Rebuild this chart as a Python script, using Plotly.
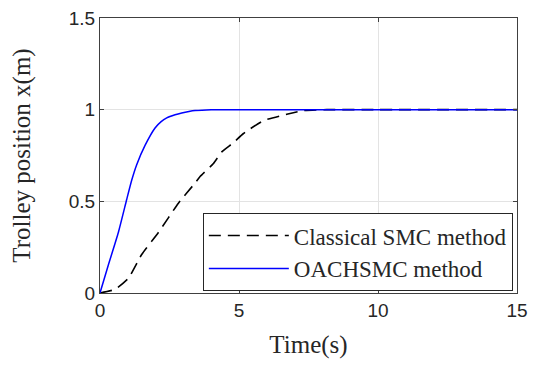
import plotly.graph_objects as go

# OACHSMC method (blue, solid)
t_oachsmc = [0, 0.3, 0.66, 0.96, 1.14, 1.32, 1.62, 1.98, 2.2, 2.4, 2.7, 2.94, 3.2, 3.42, 4.0, 5, 10, 15]
x_oachsmc = [0, 0.153, 0.33, 0.51, 0.615, 0.7, 0.805, 0.9, 0.935, 0.955, 0.972, 0.982, 0.99, 0.995, 1.0, 1.0, 1.0, 1.0]

# Classical SMC method (black, dashed)
t_classical = [0, 0.54, 1.02, 1.5, 2.1, 2.82, 3.42, 3.6, 4.08, 4.38, 4.8, 5.16, 5.88, 6.72, 7.32, 8.16, 10, 15]
x_classical = [0, 0.02, 0.08, 0.21, 0.33, 0.49, 0.6, 0.635, 0.706, 0.77, 0.82, 0.87, 0.94, 0.975, 0.995, 1.0, 1.0, 1.0]

x_ticks = [0, 5, 10, 15]
y_ticks = [0, 0.5, 1, 1.5]
y_tick_labels = ["0", "0.5", "1", "1.5"]

fig = go.Figure()
fig.add_trace(go.Scatter(
    x=t_classical, y=x_classical, mode="lines", name="Classical SMC method",
    line=dict(color="black", width=1.6, dash="12px,7px", shape="spline", smoothing=0.5),
))
fig.add_trace(go.Scatter(
    x=t_oachsmc, y=x_oachsmc, mode="lines", name="OACHSMC method",
    line=dict(color="#0000ff", width=1.5, shape="spline", smoothing=0.5),
))

axis_common = dict(
    showline=True, linecolor="#404040", linewidth=1, mirror="ticks",
    ticks="inside", ticklen=4, tickcolor="#404040",
    showgrid=True, gridcolor="#e3e3e3", gridwidth=1, zeroline=False,
    automargin=False, ticklabeloverflow="allow",
    tickfont=dict(family="Liberation Sans, Arial, sans-serif", size=19, color="#262626"),
)

fig.update_xaxes(
    range=[0, 15], tickvals=x_ticks,
    title=dict(text="Time(s)", font=dict(family="Liberation Serif, Times New Roman, serif", size=25, color="#262626"), standoff=19),
    **axis_common,
)
fig.update_yaxes(
    range=[0, 1.5], tickvals=y_ticks, ticktext=y_tick_labels,
    title=dict(text="Trolley position x(m)", font=dict(family="Liberation Serif, Times New Roman, serif", size=25, color="#262626"), standoff=35),
    **axis_common,
)

fig.update_layout(
    width=522, height=351,
    margin=dict(l=92, r=13, t=10, b=66),
    plot_bgcolor="white", paper_bgcolor="white",
    showlegend=True,
    legend=dict(
        x=0.99, y=0.007, xanchor="right", yanchor="bottom",
        bgcolor="white", bordercolor="#262626", borderwidth=1,
        font=dict(family="Liberation Serif, Times New Roman, serif", size=23, color="#262626"),
        itemwidth=80, tracegroupgap=0,
    ),
)

fig.write_html("out.html")
